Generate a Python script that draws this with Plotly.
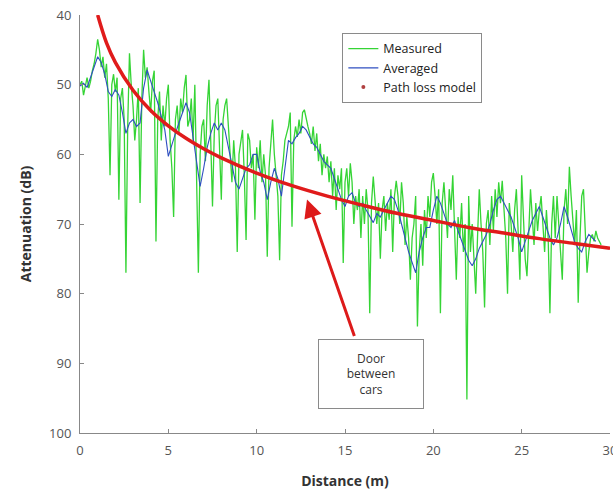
import plotly.graph_objects as go

# Measured attenuation, 0.1 m step starting at 0 m
measured_db = [
    50.0, 49.5, 51.5, 50.0, 49.0, 50.5, 49.5, 48.0, 47.0, 45.5,
    43.5, 45.0, 47.5, 46.0, 49.0, 47.0, 52.0, 63.0, 50.0, 48.5,
    51.0, 49.0, 66.5, 52.0, 50.5, 55.0, 77.0, 56.0, 45.5, 50.0,
    53.0, 58.0, 55.0, 50.5, 67.0, 52.0, 45.0, 49.0, 47.5, 51.0,
    54.0, 49.5, 48.0, 72.5, 55.0, 51.0, 58.0, 53.0, 56.0, 52.0,
    50.0, 58.0, 62.0, 69.0, 55.0, 53.0, 57.0, 52.0, 54.0, 50.5,
    48.6, 56.0, 55.0, 52.0, 58.0, 50.0, 62.0, 77.0, 60.0, 56.0,
    55.0, 61.0, 53.0, 49.3, 58.0, 67.5, 57.0, 53.0, 52.0, 59.0,
    66.5, 55.0, 53.0, 52.0, 57.0, 60.0, 64.0, 58.0, 62.0, 74.0,
    60.0, 58.0, 56.5, 63.0, 72.3, 57.0, 58.0, 62.0, 60.0, 69.4,
    59.0, 62.0, 58.0, 64.0, 60.0, 63.0, 74.7, 62.0, 58.0, 55.0,
    60.0, 63.0, 66.0, 75.2, 63.0, 61.0, 58.0, 57.0, 56.0, 54.0,
    70.4, 58.0, 56.0, 57.5, 55.0, 57.0, 54.0, 53.6, 55.0, 56.0,
    57.0, 58.5, 56.0, 59.5, 57.0, 61.0, 58.5, 63.0, 60.0, 62.0,
    60.3, 64.0, 61.0, 66.0, 62.0, 68.0, 63.0, 65.0, 62.0, 75.6,
    64.0, 62.0, 66.0, 61.3, 64.0, 70.0, 66.0, 68.0, 65.0, 72.0,
    66.0, 70.0, 65.0, 68.0, 82.8, 67.0, 63.2, 66.0, 70.0, 67.0,
    75.0, 68.0, 66.0, 71.0, 67.0, 69.4, 65.0, 74.0, 66.0, 63.8,
    66.0, 70.0, 64.0, 67.0, 73.0, 69.0, 72.0, 78.0, 72.0, 70.0,
    66.0, 84.7, 74.0, 70.0, 76.0, 68.0, 72.0, 66.0, 69.0, 64.0,
    62.7, 66.0, 70.0, 65.0, 82.8, 67.0, 64.0, 68.0, 72.0, 65.0,
    68.0, 63.0, 70.0, 78.0, 69.0, 72.0, 67.0, 74.0, 70.0, 95.2,
    66.0, 74.0, 70.0, 76.0, 80.0, 72.0, 65.0, 70.0, 74.0, 82.0,
    70.0, 68.0, 73.0, 66.0, 71.0, 65.0, 69.0, 64.0, 67.0, 63.8,
    68.0, 72.0, 80.0, 67.0, 70.0, 74.0, 68.0, 65.0, 71.0, 78.0,
    63.0, 70.0, 75.0, 77.5, 72.0, 65.0, 69.0, 73.0, 67.0, 71.0,
    68.0, 66.0, 70.0, 74.0, 68.0, 72.0, 82.8, 70.0, 66.0, 72.0,
    66.0, 70.0, 74.0, 78.0, 68.0, 65.0, 70.0, 61.8, 66.0, 70.0,
    73.0, 68.0, 81.3, 72.0, 66.0, 65.0, 70.0, 77.0, 74.0, 72.0,
    71.5, 72.5, 71.0, 72.0, 72.5, 73.0,
]
measured_step = 0.1

# Averaged attenuation, 0.2 m step starting at 0 m
averaged_db = [
    50.2, 49.8, 50.4, 49.0, 47.5,
    46.0, 46.8, 48.5, 51.0, 51.7,
    50.7, 51.5, 54.0, 57.0, 55.5,
    55.0, 56.0, 55.5, 50.5, 47.9,
    49.5, 51.0, 52.6, 54.5, 56.5,
    60.3, 58.5, 57.0, 55.5, 54.0,
    52.6, 54.0, 57.5, 61.0, 64.6,
    62.0, 59.0, 57.0, 55.5, 56.5,
    55.5, 56.5, 59.0, 62.0, 64.0,
    65.0, 63.5, 62.0, 61.5, 60.0,
    60.0, 62.5, 64.0, 66.5, 64.0,
    62.0, 63.5, 66.0, 62.0, 58.0,
    58.5, 57.6, 57.0, 56.0, 56.5,
    57.6, 58.5, 59.0, 60.0, 61.0,
    61.5, 62.0, 63.5, 65.0, 66.5,
    67.5, 66.0, 65.5, 67.0, 67.5,
    67.0, 68.0, 69.0, 69.8, 68.5,
    69.0, 68.0, 67.0, 66.0, 66.5,
    68.0, 70.0, 72.0, 74.0, 75.5,
    77.0, 74.0, 72.0, 70.5, 70.5,
    68.0, 66.0, 67.0, 68.5, 70.0,
    70.5, 69.5, 71.0, 72.5, 74.0,
    75.2, 76.0, 75.0, 73.5, 72.5,
    71.5, 70.0, 68.0, 66.5, 66.0,
    67.0, 68.0, 69.0, 70.5, 72.0,
    74.0, 72.5, 71.0, 69.5, 68.5,
    67.5, 69.0, 70.5, 72.0, 73.0,
    72.0, 70.0, 67.5, 69.0, 71.0,
    72.6, 73.5, 74.0, 72.5, 71.5,
    72.0, 72.5,
]
averaged_step = 0.2

# Path loss model
model_distance = [1, 1.5, 2, 3, 4, 5, 6, 7, 8, 10, 12, 14, 16, 18, 20, 22, 24, 26, 28, 30]
model_db = [40.0, 44.0, 46.8, 50.8, 53.7, 55.9, 57.7, 59.2, 60.5, 62.7, 64.5, 66.0,
            67.3, 68.5, 69.5, 70.5, 71.3, 72.1, 72.8, 73.5]

x_ticks = [0, 5, 10, 15, 20, 25, 30]
y_ticks = [40, 50, 60, 70, 80, 90, 100]

measured_x = [round(i * measured_step, 2) for i in range(len(measured_db))]
averaged_x = [round(i * averaged_step, 2) for i in range(len(averaged_db))]

FONT = "Open Sans"

fig = go.Figure()
fig.add_trace(go.Scatter(x=measured_x, y=measured_db, mode="lines", name="Measured",
                         line=dict(color="#35d435", width=1.3)))
fig.add_trace(go.Scatter(x=averaged_x, y=averaged_db, mode="lines", name="Averaged",
                         line=dict(color="#2f4fc0", width=1.1)))
fig.add_trace(go.Scatter(x=model_distance, y=model_db, mode="lines", name="Path loss model",
                         line=dict(color="#e01b1b", width=3.5, shape="spline"),
                         showlegend=False))
fig.add_trace(go.Scatter(x=[None], y=[None], mode="markers", name="Path loss model",
                         marker=dict(color="#b04040", size=4)))

# Text box
fig.add_annotation(x=16.47, y=91.5, xref="x", yref="y",
                   text="Door<br>between<br>cars", showarrow=False,
                   font=dict(family=FONT, size=12, color="#333333"),
                   bordercolor="#8a8a8a", borderwidth=1, bgcolor="white",
                   width=102, height=66, align="center")
# Arrow
fig.add_annotation(x=12.85, y=66.5, xref="x", yref="y",
                   ax=15.56, ay=86.3, axref="x", ayref="y",
                   text="", showarrow=True, arrowhead=2, arrowsize=1.2,
                   arrowwidth=3, arrowcolor="#dd1a1a")

fig.update_layout(
    width=613, height=493,
    margin=dict(l=80, r=3, t=15, b=60),
    paper_bgcolor="white", plot_bgcolor="white",
    font=dict(family=FONT, size=13, color="#555555"),
    legend=dict(x=0.495, y=0.957, xanchor="left", yanchor="top",
                bgcolor="white", bordercolor="#8a8a8a", borderwidth=1,
                font=dict(family=FONT, size=12.5, color="#222222"),
                tracegroupgap=0, itemwidth=30),
    showlegend=True,
)
fig.update_xaxes(range=[0, 30], tickvals=x_ticks, ticktext=[str(v) for v in x_ticks],
                 ticks="inside", ticklen=4, tickcolor="#888888",
                 ticklabelstandoff=5, ticklabeloverflow="allow", automargin=False,
                 showline=True, linecolor="#888888", linewidth=1,
                 showgrid=False, zeroline=False,
                 title=dict(text="<b>Distance (m)</b>", font=dict(family=FONT, size=14, color="#333333"),
                            standoff=18))
fig.update_yaxes(range=[100, 40], tickvals=y_ticks, ticktext=[str(v) for v in y_ticks],
                 ticks="inside", ticklen=4, tickcolor="#888888",
                 ticklabelstandoff=5, automargin=False,
                 showline=True, linecolor="#888888", linewidth=1,
                 showgrid=False, zeroline=False,
                 title=dict(text="<b>Attenuation (dB)</b>", font=dict(family=FONT, size=14, color="#333333"),
                            standoff=14))

fig.write_html("out.html")
